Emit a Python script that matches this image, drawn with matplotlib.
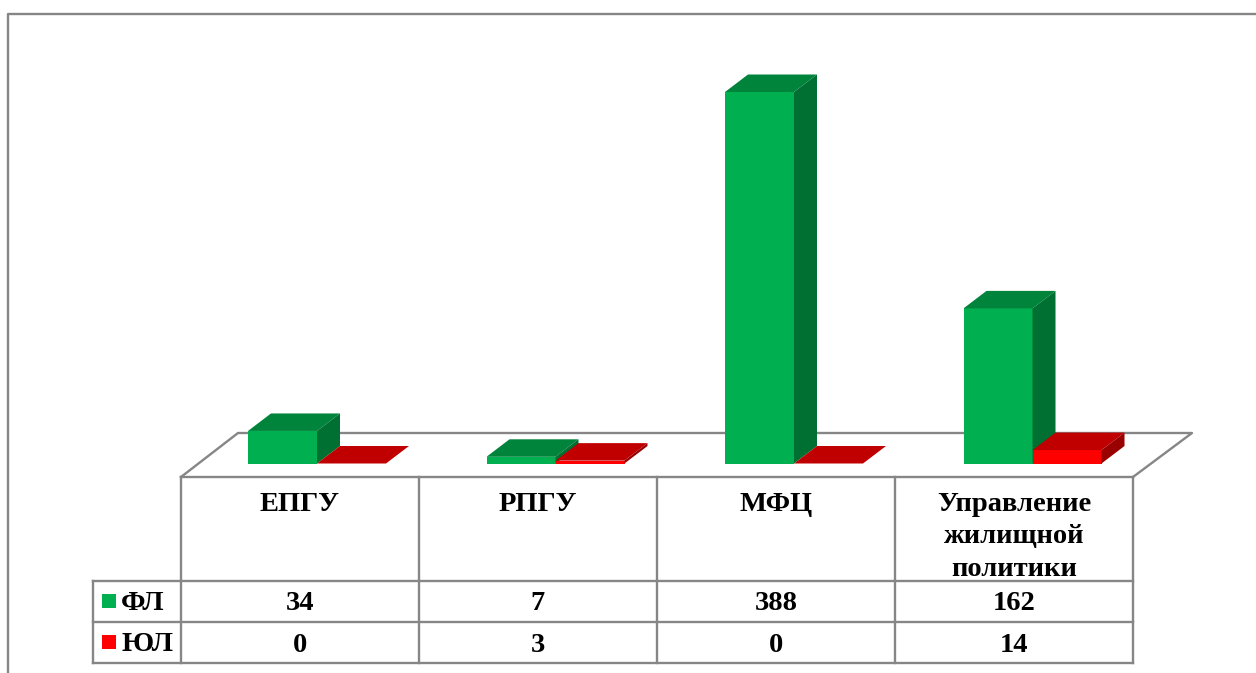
import matplotlib
matplotlib.use("Agg")
import matplotlib.pyplot as plt
from matplotlib.patches import Polygon, Rectangle
from matplotlib.transforms import Affine2D

categories = ["ЕПГУ", "РПГУ", "МФЦ", "Управление\nжилищной\nполитики"]
series_names = ["ФЛ", "ЮЛ"]
fl_values = [34, 7, 388, 162]
yl_values = [0, 3, 0, 14]

W, H = 1256, 673
GRID = "#868686"
FONT = "Liberation Serif"
FACES = {
    "ФЛ": ("#00B050", "#00843C", "#006F32"),
    "ЮЛ": ("#FF0000", "#C00000", "#990000"),
}

fig = plt.figure(figsize=(W / 100, H / 100), dpi=100)

# data axes spans the whole figure, limits chosen so the plot lands in place
px_per_cat = 238.5
px_per_val = 371.5 / 388
x0_px, y0_px = 317.0, 463.5
ax = fig.add_axes([0, 0, 1, 1])
ax.set_xlim(-x0_px / px_per_cat, (W - x0_px) / px_per_cat)
ax.set_ylim(-(H - y0_px) / px_per_val, y0_px / px_per_val)
ax.axis("off")

# pixel coords for table and frame
px = Affine2D().scale(1 / W, -1 / H).translate(0, 1) + fig.transFigure


def line(xs, ys):
    ax.plot(xs, ys, color=GRID, lw=1.7, transform=px, zorder=1,
            solid_capstyle="projecting", clip_on=False)


# outer frame
line([8, 8, W], [H, 14, 14])

# floor
line([181, 238, 1192, 1133], [477, 433, 433, 477])

# table
col_x = [181, 419, 657, 895, 1133]
row_y = [477, 581, 622, 663]
for x in col_x:
    line([x, x], [row_y[0], row_y[-1]])
line([col_x[0], col_x[-1]], [row_y[0], row_y[0]])
for y in row_y[1:]:
    line([93, col_x[-1]], [y, y])
line([93, 93], [row_y[1], row_y[-1]])

# bars
bar_w = 69 / px_per_cat
depth_x = 23 / px_per_cat
depth_y = 17.5 / px_per_val


def bar3d(x, value, name):
    front, top, side = FACES[name]
    ax.bar(x, value, width=bar_w, align="edge", color=front, zorder=3)
    ax.add_patch(Polygon([(x, value), (x + bar_w, value),
                          (x + bar_w + depth_x, value + depth_y),
                          (x + depth_x, value + depth_y)],
                         closed=True, fc=top, ec="none", zorder=3))
    if value > 0:
        ax.add_patch(Polygon([(x + bar_w, 0), (x + bar_w + depth_x, depth_y),
                              (x + bar_w + depth_x, value + depth_y),
                              (x + bar_w, value)],
                             closed=True, fc=side, ec="none", zorder=3))


for i in range(len(categories)):
    bar3d(i - bar_w, fl_values[i], "ФЛ")
    bar3d(i, yl_values[i], "ЮЛ")

# table text
txt = dict(family=FONT, fontweight="bold", fontsize=20.5, color="black",
           ha="center", va="center", transform=px, zorder=5)
line_y = [504.5, 536, 569]
for i, label in enumerate(categories):
    xc = (col_x[i] + col_x[i + 1]) / 2
    for j, part in enumerate(label.split("\n")):
        ax.text(xc, line_y[j], part, **txt)
    ax.text(xc, 603.5, str(fl_values[i]), **txt)
    ax.text(xc, 645.5, str(yl_values[i]), **txt)

# legend keys in the table
for name, y in zip(series_names, [601, 642]):
    ax.add_patch(Rectangle((102, y - 7), 14, 14, fc=FACES[name][0], ec="none",
                           transform=px, zorder=5))
    ax.text(121, y + 2.5, name, **{**txt, "ha": "left"})

fig.savefig("out.png", dpi=100)
